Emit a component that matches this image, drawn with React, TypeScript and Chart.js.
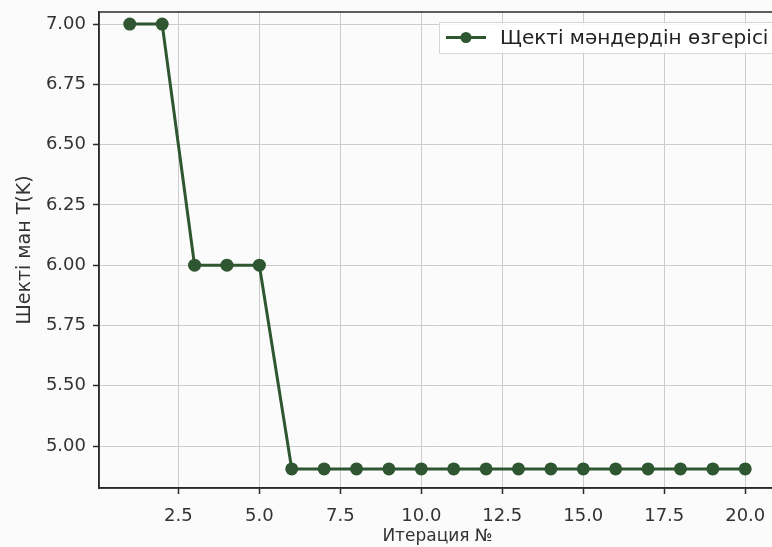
import React, { useEffect, useRef } from "react";
import { Chart, registerables } from "chart.js";

Chart.register(...registerables);

const iterations = [1, 2, 3, 4, 5, 6, 7, 8, 9, 10, 11, 12, 13, 14, 15, 16, 17, 18, 19, 20];
const limitValues = [7, 7, 6, 6, 6, 5.155, 5.155, 5.155, 5.155, 5.155, 5.155, 5.155, 5.155, 5.155, 5.155, 5.155, 5.155, 5.155, 5.155, 5.155];
const xTickValues = [2.5, 5, 7.5, 10, 12.5, 15, 17.5, 20];
const yTickValues = [5.25, 5.5, 5.75, 6, 6.25, 6.5, 6.75, 7];
const yTickLabels = ["5.00", "5.50", "5.75", "6.00", "6.25", "6.50", "6.75", "7.00"];
const seriesLabel = "Щекті мәндердін өзгерісі";
const xTitle = "Итерация №";
const yTitle = "Шекті ман T(K)";

const FONT = "'DejaVu Sans', sans-serif";
const LINE = "#2e5630";
const TEXT = "#333333";

export default function App() {
  const ref = useRef<HTMLCanvasElement | null>(null);
  useEffect(() => {
    if (!ref.current) return;
    const bgPlugin = {
      id: "bg",
      beforeDraw(chart: any) {
        const c = chart.ctx;
        c.save();
        c.fillStyle = "#fbfbfb";
        c.fillRect(0, 0, chart.width, chart.height);
        c.restore();
      },
      afterDraw(chart: any) {
        const c = chart.ctx;
        const a = chart.chartArea;
        c.save();
        c.strokeStyle = "#2a2a2a";
        c.lineWidth = 1.5;
        c.strokeRect(a.left, a.top, a.right - a.left, a.bottom - a.top);
        // legend
        const lx = 439, ly = 22, lw = 345, lh = 31;
        c.fillStyle = "rgba(255,255,255,0.85)";
        c.strokeStyle = "#d6d6d6";
        c.lineWidth = 1;
        c.beginPath();
        c.rect(lx + 0.5, ly + 0.5, lw, lh);
        c.fill();
        c.stroke();
        const cy = ly + lh / 2;
        c.strokeStyle = LINE;
        c.lineWidth = 3;
        c.beginPath();
        c.moveTo(446, cy);
        c.lineTo(486, cy);
        c.stroke();
        c.fillStyle = LINE;
        c.beginPath();
        c.arc(466, cy, 5.5, 0, Math.PI * 2);
        c.fill();
        c.fillStyle = "#222";
        c.font = `20px ${FONT}`;
        c.textBaseline = "middle";
        c.fillText(seriesLabel, 500, cy + 1);
        c.restore();
      },
    };
    const chart = new Chart(ref.current, {
      type: "line",
      data: {
        datasets: [
          {
            label: seriesLabel,
            data: iterations.map((x, i) => ({ x, y: limitValues[i] })),
            borderColor: LINE,
            backgroundColor: LINE,
            borderWidth: 3,
            pointRadius: 6.5,
            pointHoverRadius: 6.5,
            pointBackgroundColor: LINE,
            pointBorderColor: LINE,
            pointBorderWidth: 0,
            tension: 0,
          },
        ],
      },
      options: {
        animation: false,
        responsive: false,
        devicePixelRatio: 1,
        layout: { padding: { top: 12, right: 24, left: 0, bottom: 0 } },
        plugins: { legend: { display: false }, tooltip: { enabled: false } },
        scales: {
          x: {
            type: "linear",
            min: 0.05,
            max: 20.95,
            afterBuildTicks(scale: any) {
              scale.ticks = xTickValues.map((v) => ({ value: v }));
            },
            afterFit(scale: any) {
              scale.height = 59;
              scale.paddingLeft = 0;
              scale.paddingRight = 0;
            },
            ticks: {
              color: TEXT,
              font: { family: FONT, size: 18 },
              padding: 12,
              maxRotation: 0,
              autoSkip: false,
              callback: (v: any) => Number(v).toFixed(1),
            },
            grid: { color: "#cccccc", lineWidth: 1, tickLength: 6, tickColor: "#2a2a2a", tickWidth: 1.5 },
            border: { display: true, color: "#2a2a2a", width: 1.5 },
            title: { display: true, text: xTitle, color: TEXT, font: { family: FONT, size: 17 }, padding: { top: 0, bottom: 0 } },
          },
          y: {
            type: "linear",
            min: 5.076,
            max: 7.05,
            afterBuildTicks(scale: any) {
              scale.ticks = yTickValues.map((v) => ({ value: v }));
            },
            afterFit(scale: any) {
              scale.width = 99;
              scale.paddingTop = 0;
              scale.paddingBottom = 0;
            },
            ticks: {
              color: TEXT,
              font: { family: FONT, size: 18 },
              padding: 7,
              autoSkip: false,
              callback: (v: any) => {
                const i = yTickValues.findIndex((t) => Math.abs(t - Number(v)) < 1e-6);
                return i >= 0 ? yTickLabels[i] : "";
              },
            },
            grid: { color: "#cccccc", lineWidth: 1, tickLength: 6, tickColor: "#2a2a2a", tickWidth: 1.5 },
            border: { display: true, color: "#2a2a2a", width: 1.5 },
            title: { display: true, text: yTitle, color: TEXT, font: { family: FONT, size: 19 }, padding: { top: 14, bottom: 0 } },
          },
        },
      },
      plugins: [bgPlugin],
    } as any);
    return () => chart.destroy();
  }, []);
  return (
    <div style={{ position: "fixed", left: 0, top: 0, width: 772, height: 547, overflow: "hidden", background: "#fbfbfb" }}>
      <canvas ref={ref} width={800} height={547} style={{ display: "block", width: 800, height: 547 }} />
    </div>
  );
}
